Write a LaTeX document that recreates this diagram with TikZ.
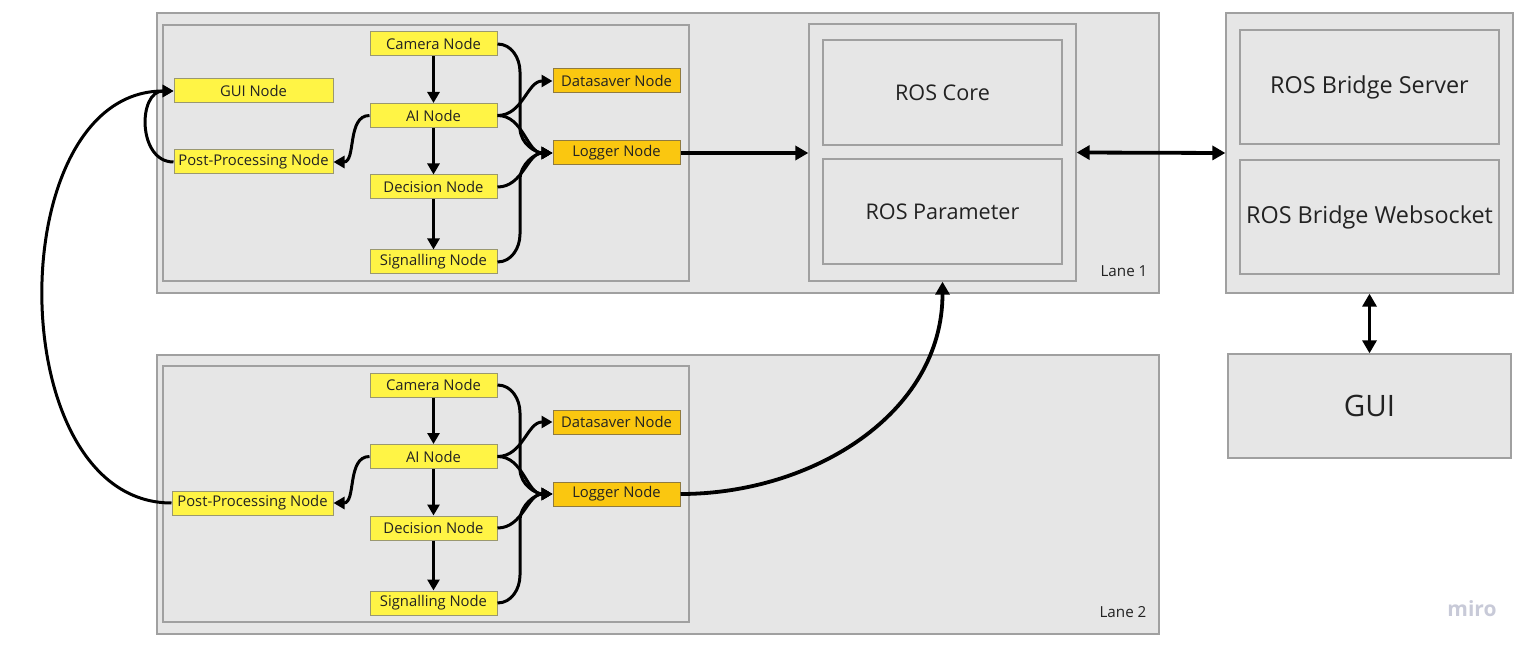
\documentclass[tikz,border=0pt]{standalone}
\usepackage{fontspec}
\setmainfont{Open Sans}
\usetikzlibrary{arrows.meta}
\definecolor{bgc}{HTML}{E6E6E6}
\definecolor{bordc}{HTML}{A0A0A0}
\definecolor{yelc}{HTML}{FFF445}
\definecolor{yelb}{HTML}{9A9870}
\definecolor{orac}{HTML}{FAC710}
\definecolor{orab}{HTML}{8F7A40}
\definecolor{txtc}{HTML}{222222}
\definecolor{miroc}{HTML}{C8CAD8}
\tikzset{
  panel/.style={draw=bordc, fill=bgc, line width=1.3pt, inner sep=0pt},
  bigbox/.style={panel, text=txtc, font=\fontsize{21.6}{26}\selectfont},
  bridgebox/.style={panel, text=txtc, font=\fontsize{23.4}{28}\selectfont},
  ynode/.style={draw=yelb, fill=yelc, line width=1pt, inner sep=0pt, minimum width=127pt, minimum height=24pt, text=txtc, font=\fontsize{14.8}{17}\selectfont},
  onode/.style={ynode, draw=orab, fill=orac},
  arr/.style={line width=3pt, -{Triangle[length=11pt,width=12pt]}},
  sysarr/.style={line width=3.8pt, -{Triangle[length=13pt,width=14pt]}},
  darr/.style={line width=3.8pt, {Triangle[length=13pt,width=14pt]}-{Triangle[length=13pt,width=14pt]}},
  lanelbl/.style={text=txtc, font=\fontsize{15.2}{18}\selectfont},
}
\begin{document}
\begin{tikzpicture}[x=1pt,y=-1pt]
\useasboundingbox (0,0) rectangle (1531,652);
% panels
\node[panel, minimum width=1002pt, minimum height=280pt] (lane1) at (658,153) {};
\node[panel, minimum width=526pt, minimum height=256pt] (inner1) at (426,153) {};
\node[panel, minimum width=267pt, minimum height=257pt] (ros) at (942.5,152.5) {};
\node[bigbox, minimum width=239pt, minimum height=105pt] (core) at (942.5,92.5) {ROS Core};
\node[bigbox, minimum width=239pt, minimum height=105pt] (param) at (942.5,211.5) {ROS Parameter};
\node[lanelbl] (l1) at (1124,271) {Lane 1};
\node[panel, minimum width=287pt, minimum height=280pt] (bridge) at (1369.5,153) {};
\node[bridgebox, minimum width=259pt, minimum height=114pt] (server) at (1369.5,87) {ROS Bridge Server};
\node[bridgebox, minimum width=259pt, minimum height=114pt] (websock) at (1369.5,217) {ROS Bridge Websocket};
\node[bigbox, minimum width=283pt, minimum height=104pt, font=\fontsize{29.5}{34}\selectfont] (gui) at (1369.5,406) {GUI};
\node[panel, minimum width=1002pt, minimum height=279pt] (lane2) at (658,494.5) {};
\node[panel, minimum width=526pt, minimum height=256pt] (inner2) at (426,494) {};
\node[lanelbl] (l2) at (1123,612) {Lane 2};
\node[text=miroc, font=\bfseries\fontsize{21}{24}\selectfont] (miro) at (1472,609) {miro};
% lane 1 nodes
\node[ynode] (cam1) at (433.5,44) {Camera Node};
\node[ynode] (ai1) at (433.5,115.5) {AI Node};
\node[ynode] (dec1) at (433.5,187) {Decision Node};
\node[ynode] (sig1) at (433.5,262) {Signalling Node};
\node[ynode, minimum width=159pt] (guin) at (253.5,91) {GUI Node};
\node[ynode, minimum width=159pt] (pp1) at (253.5,162) {Post-Processing Node};
\node[onode] (ds1) at (616.5,81) {Datasaver Node};
\node[onode] (log1) at (616.5,153) {Logger Node};
% lane 2 nodes
\node[ynode] (cam2) at (433.5,385) {Camera Node};
\node[ynode] (ai2) at (433.5,456.5) {AI Node};
\node[ynode] (dec2) at (433.5,528) {Decision Node};
\node[ynode] (sig2) at (433.5,603) {Signalling Node};
\node[ynode, minimum width=161pt] (pp2) at (252.5,503) {Post-Processing Node};
\node[onode] (ds2) at (616.5,422) {Datasaver Node};
\node[onode] (log2) at (616.5,494) {Logger Node};
% lane 1 connectors
\draw[arr] (cam1) -- (ai1);
\draw[arr] (ai1) -- (dec1);
\draw[arr] (dec1) -- (sig1);
\draw[arr] (cam1.east) to[out=0,in=90] (520,72) -- (520,128) to[out=-90,in=180] (log1.west);
\draw[arr] (sig1.east) to[out=0,in=-90] (520,234) -- (520,180) to[out=90,in=180] (log1.west);
\draw[arr] (dec1.east) to[out=0,in=180] (log1.west);
\draw[arr] (ai1.east) to[out=0,in=180] (ds1.west);
\draw[arr] (ai1.east) to[out=0,in=180] (log1.west);
\draw[arr] (ai1.west) to[out=180,in=0] (pp1.east);
\draw[arr] (pp1.west) to[out=180,in=180,looseness=1.3] (guin.west);
% lane 2 connectors
\draw[arr] (cam2) -- (ai2);
\draw[arr] (ai2) -- (dec2);
\draw[arr] (dec2) -- (sig2);
\draw[arr] (cam2.east) to[out=0,in=90] (520,413) -- (520,469) to[out=-90,in=180] (log2.west);
\draw[arr] (sig2.east) to[out=0,in=-90] (520,575) -- (520,521) to[out=90,in=180] (log2.west);
\draw[arr] (dec2.east) to[out=0,in=180] (log2.west);
\draw[arr] (ai2.east) to[out=0,in=180] (ds2.west);
\draw[arr] (ai2.east) to[out=0,in=180] (log2.west);
\draw[arr] (ai2.west) to[out=180,in=0] (pp2.east);
\draw[arr] (pp2.west) .. controls (0,503) and (0,91) .. (guin.west);
% system connectors
\draw[sysarr] (log1.east) -- (ros.west |- log1.east);
\draw[sysarr] (log2.east) to[out=0,in=-90] (ros.south);
\draw[darr] (ros.east) -- (bridge.west);
\draw[darr] (bridge.south) -- (gui.north);
\end{tikzpicture}
\end{document}
